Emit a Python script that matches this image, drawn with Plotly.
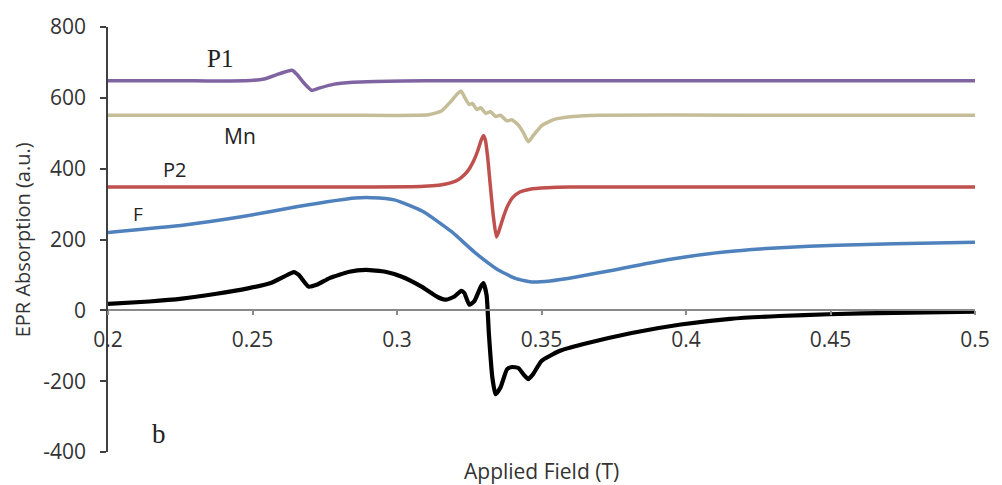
import plotly.graph_objects as go

# Applied field (T) and EPR absorption (a.u.) for each spectrum
p1_field = [0.200, 0.230, 0.2472, 0.254, 0.2586, 0.262, 0.2637, 0.2654, 0.2682,
            0.2705, 0.2733, 0.2779, 0.2847, 0.2926, 0.310, 0.400, 0.500]
p1_abs = [648, 648, 648, 653, 666, 675, 678, 666, 638,
          621, 628, 638, 644, 646, 648, 648, 648]

mn_field = [0.200, 0.280, 0.3108, 0.3154, 0.3188, 0.321, 0.3222, 0.3235, 0.325,
            0.3261, 0.3276, 0.329, 0.3307, 0.3324, 0.3341, 0.3358, 0.338, 0.3397,
            0.342, 0.3437, 0.3454, 0.3471, 0.350, 0.354, 0.3608, 0.3699, 0.420, 0.500]
mn_abs = [551, 551, 552, 563, 591, 612, 619, 600, 581,
          584, 567, 572, 556, 561, 547, 551, 535, 538,
          523, 502, 476, 493, 521, 538, 547, 551, 551, 551]

p2_field = [0.200, 0.280, 0.3050, 0.3108, 0.3150, 0.3185, 0.3212, 0.3235, 0.3252,
            0.3267, 0.3280, 0.3291, 0.3299, 0.3306, 0.3314, 0.3322, 0.3333, 0.3344,
            0.3352, 0.3365, 0.3380, 0.3400, 0.3425, 0.3460, 0.3520, 0.3600, 0.380, 0.500]
p2_abs = [348, 348, 349, 351, 354, 360, 369, 384, 402,
          425, 452, 480, 494, 480, 430, 360, 268, 207,
          222, 256, 290, 318, 334, 342, 346, 348, 348, 348]

f_field = [0.200, 0.2265, 0.2461, 0.2657, 0.2855, 0.2913, 0.2991, 0.309, 0.3189,
           0.3267, 0.3345, 0.3410, 0.3465, 0.3530, 0.3620, 0.3737, 0.3935, 0.4132,
           0.4327, 0.4524, 0.4721, 0.500]
f_abs = [220, 241, 264, 293, 317, 318, 312, 279, 222,
         165, 117, 90, 80, 83, 94, 112, 143, 165,
         177, 184, 188, 192]

sum_field = [0.200, 0.2143, 0.2256, 0.237, 0.2484, 0.2563, 0.2609, 0.2643, 0.266,
             0.2694, 0.2722, 0.2767, 0.2835, 0.2892, 0.296, 0.3017, 0.3085, 0.3142,
             0.317, 0.3199, 0.3222, 0.3233, 0.325, 0.3267, 0.329, 0.3299, 0.331,
             0.3318, 0.333, 0.3341, 0.3358, 0.3381, 0.3398, 0.342, 0.3437, 0.3454,
             0.3471, 0.350, 0.3562, 0.3642, 0.3812, 0.3982, 0.4153, 0.4323, 0.4493,
             0.472, 0.500]
sum_abs = [18, 25, 33, 46, 62, 77, 95, 108, 100,
           67, 72, 91, 109, 114, 109, 95, 67, 37,
           30, 39, 55, 49, 16, 25, 67, 77, 43,
           -67, -190, -237, -218, -166, -160, -163, -180, -194,
           -180, -143, -115, -96, -64, -40, -24, -16, -11,
           -7, -4]

x_ticks = [0.2, 0.25, 0.3, 0.35, 0.4, 0.45, 0.5]
x_tick_text = ["0.2", "0.25", "0.3", "0.35", "0.4", "0.45", "0.5"]
y_ticks = [-400, -200, 0, 200, 400, 600, 800]
y_tick_text = ["-400", "-200", "0", "200", "400", "600", "800"]

series = [
    ("F", f_field, f_abs, "#4F81BD", 3.5),
    ("P2", p2_field, p2_abs, "#C0504D", 3.5),
    ("Mn", mn_field, mn_abs, "#C4BD97", 3.5),
    ("P1", p1_field, p1_abs, "#8064A2", 3.5),
    ("b", sum_field, sum_abs, "#000000", 4.2),
]

fig = go.Figure()
for name, xs, ys, color, width in series:
    fig.add_trace(go.Scatter(
        x=xs, y=ys, mode="lines", name=name,
        line=dict(color=color, width=width, shape="spline", smoothing=0.5),
        showlegend=False,
    ))

sans = "Open Sans, Carlito, Liberation Sans, sans-serif"
serif = "Liberation Serif, Times New Roman, serif"
text_color = "#333333"

fig.update_layout(
    width=1002, height=485,
    margin=dict(l=108, r=19, t=25, b=33),
    paper_bgcolor="white", plot_bgcolor="white",
    xaxis=dict(
        range=[0.2, 0.5], tickvals=x_ticks, ticktext=x_tick_text,
        anchor="free", position=1 / 3,
        showline=True, linecolor="#8a8a8a", linewidth=2,
        ticks="outside", ticklen=4, tickwidth=1.5, tickcolor="#8a8a8a",
        showgrid=False, zeroline=False,
        tickfont=dict(family=sans, size=21, color=text_color),
        ticklabelstandoff=6,
    ),
    yaxis=dict(
        range=[-400, 800], tickvals=y_ticks, ticktext=y_tick_text,
        showline=True, linecolor="#404040", linewidth=1.5,
        ticks="outside", ticklen=6, tickwidth=1.5, tickcolor="#404040",
        showgrid=False, zeroline=False,
        tickfont=dict(family=sans, size=21, color=text_color),
        ticklabelstandoff=10,
    ),
)

# Axis titles
fig.add_annotation(text="Applied Field (T)", xref="paper", yref="paper",
                   x=(546 - 108) / 875, y=-0.045, showarrow=False,
                   xanchor="center", yanchor="middle",
                   font=dict(family=sans, size=21, color=text_color))
fig.add_annotation(text="EPR Absorption (a.u.)", xref="paper", yref="paper",
                   x=(22 - 108) / 875, y=0.5, showarrow=False, textangle=-90,
                   xanchor="center", yanchor="middle",
                   font=dict(family=sans, size=20, color=text_color))

# Curve labels
labels = [
    ("P1", 0.2388, 712, serif, 25),
    ("Mn", 0.2455, 493, sans, 21),
    ("P2", 0.2230, 399, sans, 20),
    ("F", 0.2103, 273, sans, 19),
    ("b", 0.2177, -348, serif, 27),
]
for text, lx, ly, fam, size in labels:
    fig.add_annotation(text=text, x=lx, y=ly, xref="x", yref="y", showarrow=False,
                       xanchor="center", yanchor="middle",
                       font=dict(family=fam, size=size, color="#222222"))

fig.write_html("out.html")
